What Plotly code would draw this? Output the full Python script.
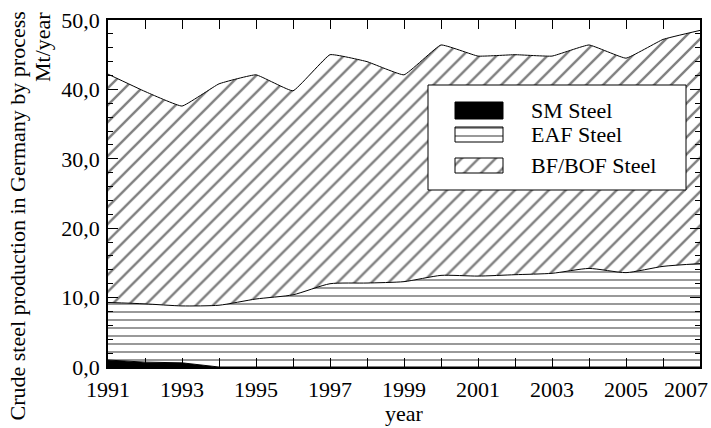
import plotly.graph_objects as go

# ---- data (Mt/year) ----
years = list(range(1991, 2008))
sm_steel = [1.0, 0.7, 0.6, 0.0, 0.0, 0.0, 0.0, 0.0, 0.0, 0.0, 0.0, 0.0, 0.0, 0.0, 0.0, 0.0, 0.0]
eaf_steel = [8.3, 8.4, 8.2, 8.9, 9.8, 10.4, 12.0, 12.1, 12.3, 13.2, 13.1, 13.3, 13.5, 14.2, 13.6, 14.5, 14.9]
bof_steel = [32.9, 30.6, 28.8, 31.9, 32.3, 29.4, 33.0, 31.9, 29.8, 33.2, 31.7, 31.7, 31.3, 32.2, 30.9, 32.7, 33.6]

series_names = ["SM Steel", "EAF Steel", "BF/BOF Steel"]
x_tick_vals = [1991, 1993, 1995, 1997, 1999, 2001, 2003, 2005, 2007]
x_tick_text = ["1991", "1993", "1995", "1997", "1999", "2001", "2003", "2005", ""]
last_x_label = "2007"
y_tick_vals = [0, 10, 20, 30, 40, 50]
y_tick_text = ["0,0", "10,0", "20,0", "30,0", "40,0", "50,0"]

FONT = "Liberation Serif"
FS = 22
W, H = 711, 428
L, R, T, B = 108, 11, 20, 61
PW, PH = W - L - R, H - T - B


def px2paper_x(px):
    return (px - L) / PW


def px2paper_y(py):
    return (H - B - py) / PH


fig = go.Figure()

fig.add_trace(go.Scatter(
    x=years, y=sm_steel, name=series_names[0], stackgroup="s", mode="lines",
    line=dict(color="black", width=1), fillcolor="black", showlegend=False))
fig.add_trace(go.Scatter(
    x=years, y=eaf_steel, name=series_names[1], stackgroup="s", mode="lines",
    line=dict(color="black", width=1, shape="spline", smoothing=0.6),
    fillcolor="white",
    fillpattern=dict(shape="-", size=8, solidity=0.2, fgcolor="black", bgcolor="white"),
    showlegend=False))
fig.add_trace(go.Scatter(
    x=years, y=bof_steel, name=series_names[2], stackgroup="s", mode="lines",
    line=dict(color="black", width=1, shape="spline", smoothing=0.3),
    fillcolor="white",
    fillpattern=dict(shape="/", size=12, solidity=0.2, fgcolor="black", bgcolor="white"),
    showlegend=False))

# ---- custom legend on a pixel-based overlay axis ----
px_x = [L, W - R]
px_y = [H - B, T]
box = dict(x0=428, x1=686, y0=85, y1=190)
fig.add_trace(go.Scatter(
    x=[box["x0"], box["x1"], box["x1"], box["x0"], box["x0"]],
    y=[box["y0"], box["y0"], box["y1"], box["y1"], box["y0"]],
    xaxis="x2", yaxis="y2", mode="lines", fill="toself", fillcolor="white",
    line=dict(color="black", width=1), showlegend=False, hoverinfo="skip"))

swatch_rows = [(102, 119), (127, 142), (158, 173)]
swatch_styles = [
    dict(fillcolor="black"),
    dict(fillcolor="white", fillpattern=dict(shape="-", size=8, solidity=0.2, fgcolor="black", bgcolor="white")),
    dict(fillcolor="white", fillpattern=dict(shape="/", size=12, solidity=0.2, fgcolor="black", bgcolor="white")),
]
for (y0, y1), style, name in zip(swatch_rows, swatch_styles, series_names):
    fig.add_trace(go.Scatter(
        x=[455, 503, 503, 455, 455], y=[y0, y0, y1, y1, y0],
        xaxis="x2", yaxis="y2", mode="lines", fill="toself",
        line=dict(color="black", width=1), showlegend=False, hoverinfo="skip", **style))
    fig.add_annotation(x=px2paper_x(529), y=px2paper_y((y0 + y1) / 2), xref="paper", yref="paper",
                       text=name, showarrow=False, xanchor="left", yanchor="middle",
                       font=dict(family=FONT, size=FS, color="black"))

# last x tick label, pulled inside the page like in the reference
fig.add_annotation(x=px2paper_x(710), y=px2paper_y(375), xref="paper", yref="paper",
                   text=last_x_label, showarrow=False, xanchor="right", yanchor="top",
                   font=dict(family=FONT, size=FS, color="black"))

# axis titles
fig.add_annotation(x=px2paper_x(17), y=px2paper_y(10), xref="paper", yref="paper",
                   text="Crude steel production in Germany by process",
                   textangle=-90, showarrow=False, xanchor="center", yanchor="top",
                   font=dict(family=FONT, size=FS, color="black"))
fig.add_annotation(x=px2paper_x(43), y=px2paper_y(10), xref="paper", yref="paper", text="Mt/year",
                   textangle=-90, showarrow=False, xanchor="center", yanchor="top",
                   font=dict(family=FONT, size=FS, color="black"))
fig.add_annotation(x=0.5, y=px2paper_y(428), xref="paper", yref="paper", text="year",
                   showarrow=False, xanchor="center", yanchor="bottom",
                   font=dict(family=FONT, size=FS, color="black"))

fig.update_layout(
    width=W, height=H,
    margin=dict(l=L, r=R, t=T, b=B, autoexpand=False),
    paper_bgcolor="white", plot_bgcolor="white",
    font=dict(family=FONT, size=FS, color="black"),
    showlegend=False,
    xaxis=dict(range=[1991, 2007], tickvals=x_tick_vals, ticktext=x_tick_text,
               ticks="inside", ticklen=9, tickwidth=1, tickcolor="black",
               minor=dict(dtick=1, tick0=1991, ticks="inside", ticklen=9, tickwidth=1, tickcolor="black"),
               showline=True, linecolor="black", linewidth=1.5, mirror="ticks",
               showgrid=False, zeroline=False, ticklabelstandoff=2,
               ticklabeloverflow="allow", automargin=False),
    yaxis=dict(range=[0, 50], tickvals=y_tick_vals, ticktext=y_tick_text,
               ticks="inside", ticklen=10, tickwidth=1, tickcolor="black",
               minor=dict(dtick=2, tick0=0, ticks="inside", ticklen=5, tickwidth=1, tickcolor="black"),
               showline=True, linecolor="black", linewidth=1.5, mirror="ticks",
               showgrid=False, zeroline=False, ticklabelstandoff=2,
               ticklabeloverflow="allow", automargin=False),
    xaxis2=dict(range=px_x, overlaying="x", anchor="y2", visible=False, fixedrange=True),
    yaxis2=dict(range=px_y, overlaying="y", anchor="x2", visible=False, fixedrange=True),
)

fig.write_html("out.html", config={"displayModeBar": False},
               post_script="document.body.style.margin='0';")
